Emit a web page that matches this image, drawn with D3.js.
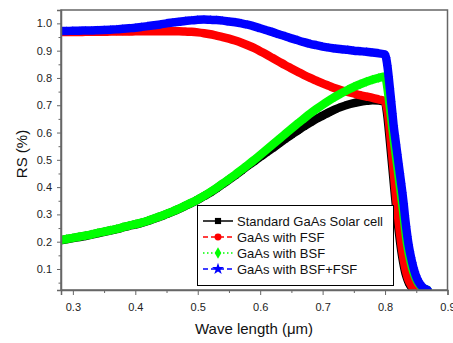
<!DOCTYPE html>
<html>
<head>
<meta charset="utf-8">
<script src="https://cdn.jsdelivr.net/npm/d3@7"></script>
<style>
  body { margin: 0; background: #fff; }
  svg { display: block; font-family: "Liberation Sans", Arial, sans-serif; }
</style>
</head>
<body>
<div id="chart"></div>
<script>
// wavelength grid (um)
const wavelength = [
  0.28, 0.29, 0.30, 0.31, 0.32, 0.33, 0.34, 0.35, 0.36, 0.37, 0.38, 0.39, 0.40,
  0.41, 0.42, 0.43, 0.44, 0.45, 0.46, 0.47, 0.48, 0.49, 0.50, 0.51, 0.52, 0.53,
  0.54, 0.55, 0.56, 0.57, 0.58, 0.59, 0.60, 0.61, 0.62, 0.63, 0.64, 0.65, 0.66,
  0.67, 0.68, 0.69, 0.70, 0.71, 0.72, 0.73, 0.74, 0.75, 0.76, 0.77, 0.78, 0.79,
  0.80, 0.802, 0.804, 0.806, 0.808, 0.810, 0.812, 0.814, 0.816, 0.818, 0.820,
  0.822, 0.824, 0.826, 0.828, 0.830, 0.832, 0.834, 0.836, 0.838, 0.840, 0.842,
  0.844, 0.846, 0.848, 0.850, 0.852, 0.854, 0.856, 0.858, 0.860, 0.862, 0.864,
  0.866, 0.868
];

const standardCell = [
  0.205, 0.209, 0.213, 0.217, 0.221, 0.226, 0.231, 0.236, 0.241, 0.246, 0.252, 0.258, 0.263,
  0.269, 0.276, 0.284, 0.292, 0.301, 0.310, 0.320, 0.331, 0.342, 0.354, 0.367, 0.380, 0.395,
  0.411, 0.427, 0.443, 0.460, 0.478, 0.494, 0.511, 0.527, 0.543, 0.560, 0.576, 0.592, 0.607,
  0.622, 0.636, 0.650, 0.662, 0.674, 0.685, 0.694, 0.702, 0.708, 0.713, 0.716, 0.718, 0.717,
  0.712, 0.690, 0.655, 0.610, 0.562, 0.513, 0.464, 0.414, 0.365, 0.318, 0.276,
  0.237, 0.200, 0.166, 0.137, 0.112, 0.091, 0.074, 0.060, 0.049, 0.041, 0.035,
  0.030, 0.026, 0.024, null, null, null, null, null, null, null, null,
  null, null
];

const withFSF = [
  0.968, 0.968, 0.968, 0.968, 0.969, 0.969, 0.969, 0.969, 0.970, 0.970, 0.970, 0.970, 0.971,
  0.971, 0.971, 0.971, 0.971, 0.971, 0.971, 0.971, 0.970, 0.969, 0.967, 0.964, 0.960, 0.955,
  0.950, 0.944, 0.937, 0.929, 0.920, 0.910, 0.898, 0.886, 0.873, 0.860, 0.847, 0.835, 0.823,
  0.811, 0.800, 0.790, 0.780, 0.771, 0.762, 0.755, 0.749, 0.743, 0.737, 0.732, 0.727, 0.721,
  0.715, 0.700, 0.680, 0.646, 0.600, 0.552, 0.503, 0.454, 0.404, 0.355, 0.310,
  0.268, 0.230, 0.193, 0.160, 0.132, 0.108, 0.088, 0.071, 0.058, 0.048, 0.040,
  0.034, 0.030, 0.026, 0.024, null, null, null, null, null, null, null,
  null, null
];

const withBSF = [
  0.206, 0.210, 0.214, 0.218, 0.222, 0.227, 0.232, 0.237, 0.242, 0.247, 0.253, 0.259, 0.264,
  0.270, 0.277, 0.285, 0.293, 0.302, 0.311, 0.321, 0.332, 0.343, 0.355, 0.368, 0.382, 0.397,
  0.413, 0.429, 0.446, 0.463, 0.481, 0.499, 0.518, 0.537, 0.556, 0.575, 0.595, 0.614, 0.633,
  0.651, 0.669, 0.686, 0.702, 0.717, 0.731, 0.744, 0.756, 0.767, 0.777, 0.786, 0.794, 0.800,
  0.805, 0.790, 0.760, 0.725, 0.688, 0.650, 0.612, 0.575, 0.540, 0.505, 0.470,
  0.435, 0.400, 0.365, 0.328, 0.290, 0.250, 0.213, 0.182, 0.157, 0.135, 0.116,
  0.099, 0.085, 0.073, 0.062, 0.053, 0.046, 0.040, 0.035, 0.031, 0.028, 0.026,
  0.024, 0.023
];

const withBSFFSF = [
  0.972, 0.972, 0.973, 0.973, 0.974, 0.974, 0.975, 0.976, 0.977, 0.978, 0.980, 0.982, 0.984,
  0.987, 0.990, 0.993, 0.996, 1.000, 1.003, 1.006, 1.009, 1.011, 1.013, 1.014, 1.013, 1.012,
  1.010, 1.007, 1.004, 1.000, 0.995, 0.989, 0.982, 0.975, 0.968, 0.960, 0.953, 0.945, 0.938,
  0.931, 0.925, 0.920, 0.915, 0.911, 0.908, 0.905, 0.903, 0.900, 0.898, 0.896, 0.893, 0.890,
  0.886, 0.870, 0.840, 0.800, 0.755, 0.710, 0.665, 0.620, 0.585, 0.550, 0.515,
  0.480, 0.445, 0.410, 0.375, 0.335, 0.290, 0.250, 0.215, 0.185, 0.160, 0.138,
  0.118, 0.100, 0.085, 0.072, 0.061, 0.052, 0.045, 0.039, 0.034, 0.030, 0.027,
  0.025, 0.023
];

const seriesNames = ['Standard GaAs Solar cell', 'GaAs with FSF', 'GaAs with BSF', 'GaAs with BSF+FSF'];
const seriesValues = [standardCell, withFSF, withBSF, withBSFFSF];
const seriesColors = ['#000000', '#ff0000', '#00ff00', '#0000ff'];
const seriesSymbols = [d3.symbolSquare, d3.symbolCircle, d3.symbolDiamond, d3.symbolStar];
const seriesDash = [null, '5,3', '1.5,2.5', '5,3'];
const markerSize = [40, 40, 28, 26];

const xTicks = [0.3, 0.4, 0.5, 0.6, 0.7, 0.8, 0.9];
const yTicks = [0.1, 0.2, 0.3, 0.4, 0.5, 0.6, 0.7, 0.8, 0.9, 1.0];

const width = 453, height = 343;
const plotLeft = 61, plotRight = 447.5, plotTop = 10, plotBottom = 290;

const svg = d3.select('#chart').append('svg')
  .attr('width', width)
  .attr('height', height);

const x = d3.scaleLinear().domain([0.281, 0.9]).range([plotLeft, plotRight]);
const y = d3.scaleLinear().domain([0.023, 1.049]).range([plotBottom, plotTop]);

svg.append('clipPath').attr('id', 'plot-clip')
  .append('rect')
  .attr('x', plotLeft).attr('y', plotTop)
  .attr('width', plotRight - plotLeft).attr('height', plotBottom - plotTop);

// curves
const plot = svg.append('g').attr('clip-path', 'url(#plot-clip)');
const line = d3.line()
  .defined(d => d.v != null)
  .x(d => x(d.w))
  .y(d => y(d.v))
  .curve(d3.curveMonotoneX);

seriesValues.forEach((vals, i) => {
  const pts = wavelength.map((w, j) => ({ w: w, v: vals[j] }));
  plot.append('path')
    .datum(pts)
    .attr('fill', 'none')
    .attr('stroke', seriesColors[i])
    .attr('stroke-width', 8.5)
    .attr('stroke-linejoin', 'round')
    .attr('stroke-linecap', 'round')
    .attr('d', line);
  plot.selectAll('.m' + i)
    .data(pts.filter(d => d.v != null))
    .enter().append('path')
    .attr('transform', d => `translate(${x(d.w)},${y(d.v)})`)
    .attr('d', d3.symbol().type(seriesSymbols[i]).size(markerSize[i]))
    .attr('fill', seriesColors[i]);
});

// frame
const axisColor = '#666';
svg.append('rect')
  .attr('x', plotLeft).attr('y', plotTop)
  .attr('width', plotRight - plotLeft).attr('height', plotBottom - plotTop)
  .attr('fill', 'none')
  .attr('stroke', axisColor)
  .attr('stroke-width', 1.5);

// x axis
const xAxis = svg.append('g')
  .attr('transform', `translate(0,${plotBottom})`)
  .call(d3.axisBottom(x).tickValues(xTicks).tickSize(5).tickPadding(8).tickFormat(d3.format('.1f')));
svg.append('g')
  .attr('transform', `translate(0,${plotBottom})`)
  .call(d3.axisBottom(x).tickValues(d3.range(0.35, 0.9, 0.1)).tickSize(3).tickFormat(''))
  .call(g => g.select('.domain').remove())
  .selectAll('line').attr('stroke', axisColor);

// y axis
const yAxis = svg.append('g')
  .attr('transform', `translate(${plotLeft},0)`)
  .call(d3.axisLeft(y).tickValues(yTicks).tickSize(4).tickPadding(5).tickFormat(d3.format('.1f')));
svg.append('g')
  .attr('transform', `translate(${plotLeft},0)`)
  .call(d3.axisLeft(y).tickValues(d3.range(0.05, 1.04, 0.1)).tickSize(2.5).tickFormat(''))
  .call(g => g.select('.domain').remove())
  .selectAll('line').attr('stroke', axisColor);

[xAxis, yAxis].forEach(g => {
  g.select('.domain').attr('stroke', axisColor).attr('stroke-width', 1.5);
  g.selectAll('.tick line').attr('stroke', axisColor);
  g.selectAll('.tick text').attr('fill', '#222').style('font-size', '11px');
});

// axis titles
svg.append('text')
  .attr('x', 254).attr('y', 334)
  .attr('text-anchor', 'middle')
  .style('font-size', '15px')
  .attr('fill', '#111')
  .text('Wave length (μm)');

svg.append('text')
  .attr('transform', 'translate(27,154) rotate(-90)')
  .attr('text-anchor', 'middle')
  .style('font-size', '15px')
  .attr('fill', '#111')
  .text('RS (%)');

// legend
const legend = svg.append('g');
legend.append('rect')
  .attr('x', 197.5).attr('y', 205.5)
  .attr('width', 196).attr('height', 80)
  .attr('fill', '#fff')
  .attr('stroke', '#000')
  .attr('stroke-width', 1);

seriesNames.forEach((name, i) => {
  const cy = 221 + i * 16;
  legend.append('line')
    .attr('x1', 203).attr('x2', 233)
    .attr('y1', cy).attr('y2', cy)
    .attr('stroke', seriesColors[i])
    .attr('stroke-width', 1.5)
    .attr('stroke-dasharray', seriesDash[i]);
  legend.append('path')
    .attr('transform', `translate(218,${cy})`)
    .attr('d', d3.symbol().type(seriesSymbols[i]).size(i === 3 ? 45 : 38))
    .attr('fill', seriesColors[i]);
  legend.append('text')
    .attr('x', 237).attr('y', cy + 4.5)
    .style('font-size', '13px')
    .attr('fill', '#111')
    .text(name);
});
</script>
</body>
</html>
